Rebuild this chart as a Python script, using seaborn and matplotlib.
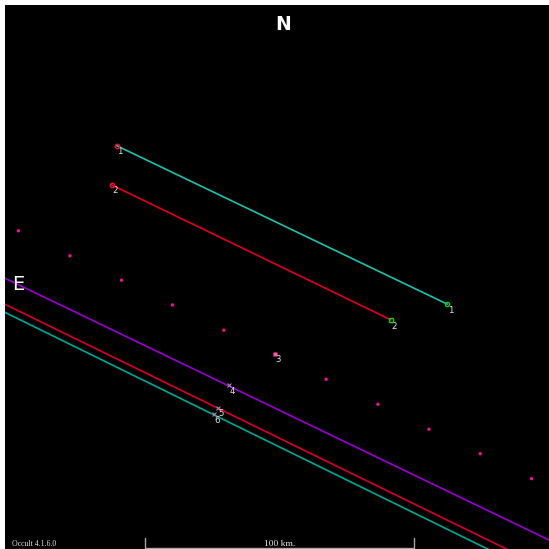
import matplotlib
matplotlib.use("Agg")
import matplotlib.pyplot as plt
import seaborn as sns
import pandas as pd

# Observed chords (km, east-west / north-south offsets from the reference point)
chord_ids = ["1", "2"]
chord_x0 = [-59.7, -61.6]
chord_y0 = [48.9, 34.3]
chord_x1 = [63.4, 42.5]
chord_y1 = [-10.1, -16.0]
chord_colors = ["#1fc2b0", "#e0001e"]

# Predicted path centre-line time marks (km)
path_x = [-96.3, -77.1, -57.9, -38.9, -19.8, -0.6, 18.3, 37.6, 56.6, 75.7, 94.8]
path_y = [17.2, 7.9, -1.2, -10.4, -19.8, -28.8, -38.1, -47.4, -56.7, -65.8, -75.1]

# Miss / remote-station lines (km), each crossing the full frame
miss_ids = ["4", "5", "6"]
miss_xa = [-103.3, -103.3, -103.3]
miss_ya = [0.5, -9.2, -12.2]
miss_xb = [103.3, 103.3, 103.3]
miss_yb = [-98.9, -110.0, -113.5]
miss_colors = ["#9a00d0", "#d8002a", "#00a896"]
miss_mark_x = [-17.9, -22.1, -23.4]
miss_mark_y = [-40.4, -48.8, -50.9]

scale_km = 100
half_width = 101.3

sns.set_theme(style="dark")
fig = plt.figure(figsize=(5.49, 5.49), dpi=100, facecolor="white")
ax = fig.add_axes([5 / 549, 0, 544 / 549, 544 / 549])
ax.set_facecolor("black")
ax.set_xlim(-half_width, half_width)
ax.set_ylim(-half_width, half_width)
ax.set_xticks([])
ax.set_yticks([])
for s in ax.spines.values():
    s.set_visible(False)
ax.grid(False)

label_kw = dict(textcoords="offset points", ha="center", va="center",
                fontsize=6.2, color="#e6e6e6", family="DejaVu Sans")
miss_offsets = [(2.2, -4), (2.4, -3.6), (2.0, -4.6)]

# Miss lines
for i, lid in enumerate(miss_ids):
    df = pd.DataFrame({"x": [miss_xa[i], miss_xb[i]], "y": [miss_ya[i], miss_yb[i]]})
    sns.lineplot(data=df, x="x", y="y", sort=False, estimator=None,
                 color=miss_colors[i], lw=1.2, ax=ax, legend=False)
    ax.plot(miss_mark_x[i], miss_mark_y[i], marker="x", ms=3, mew=0.8,
            color="#9a8aa8", zorder=5)
    ax.annotate(lid, (miss_mark_x[i], miss_mark_y[i]), xytext=miss_offsets[i], **label_kw)

# Centre-line dots
path_df = pd.DataFrame({"x": path_x, "y": path_y})
sns.scatterplot(data=path_df, x="x", y="y", marker="o", s=6, color="#f0109a",
                edgecolor="none", ax=ax, zorder=4)
ax.plot(path_x[5], path_y[5], marker="s", ms=3, color="#ff5aa8", mec="none", zorder=5)
ax.annotate("3", (path_x[5], path_y[5]), xytext=(2.2, -4), **label_kw)

# Chords with start/end markers
end_markers = ["o", "s"]
for i, cid in enumerate(chord_ids):
    df = pd.DataFrame({"x": [chord_x0[i], chord_x1[i]], "y": [chord_y0[i], chord_y1[i]]})
    sns.lineplot(data=df, x="x", y="y", sort=False, estimator=None,
                 color=chord_colors[i], lw=1.2, ax=ax, legend=False)
    ax.plot(chord_x0[i], chord_y0[i], marker="o", ms=3.2, mfc="none", mec="#e8103a",
            mew=1.0, zorder=6)
    ax.plot(chord_x1[i], chord_y1[i], marker=end_markers[i], ms=3.0, mfc="none",
            mec="#10d020", mew=1.0, zorder=6)
    ax.annotate(cid, (chord_x0[i], chord_y0[i]), xytext=(2.2, -4), **label_kw)
    ax.annotate(cid, (chord_x1[i], chord_y1[i]), xytext=(2.2, -4.5), **label_kw)

ax.set_xlabel("")
ax.set_ylabel("")

# Compass letters
ax.text(0.5113, 0.965, "N", transform=ax.transAxes, ha="center", va="center",
        fontsize=13.5, fontweight="bold", color="white", family="DejaVu Sans")
ax.text(0.024, 0.487, "E", transform=ax.transAxes, ha="center", va="center",
        fontsize=14, color="white", family="DejaVu Sans")

# Scale bar
bar_y = -100.8
bar_x0 = -49.0
bar_x1 = bar_x0 + scale_km
ax.plot([bar_x0, bar_x0, bar_x1, bar_x1], [bar_y + 3.6, bar_y, bar_y, bar_y + 3.6],
        color="#a8a8a8", lw=1.0, clip_on=False, solid_joinstyle="miter")
ax.text((bar_x0 + bar_x1) / 2, bar_y - 0.2, f"{scale_km} km.", ha="center",
        va="bottom", fontsize=6.8, color="#e8e8e8", family="Liberation Serif")

ax.text(0.012, 0.002, "Occult 4.1.6.0", transform=ax.transAxes, ha="left",
        va="bottom", fontsize=5.6, color="#e0e0e0", family="Liberation Serif")

fig.savefig("out.png", dpi=100, facecolor="white")
